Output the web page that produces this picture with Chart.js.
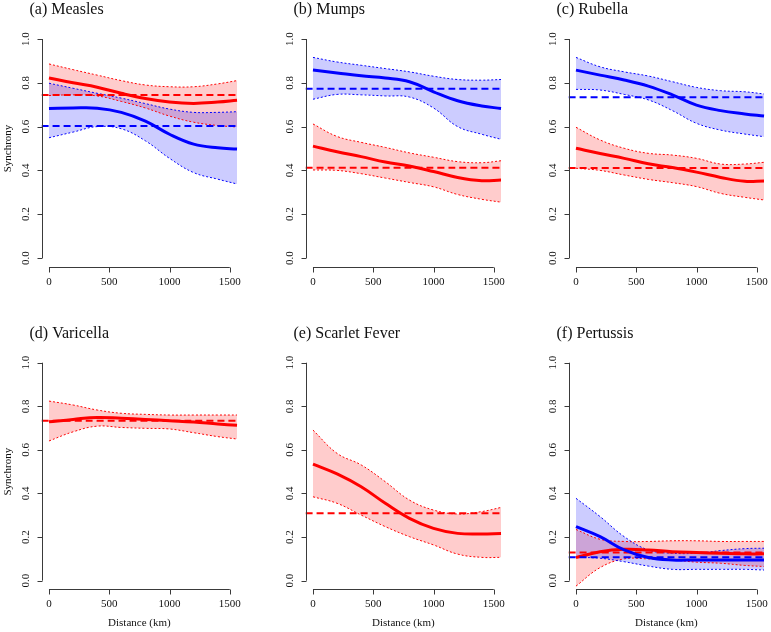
<!DOCTYPE html>
<html>
<head>
<meta charset="utf-8">
<script src="https://cdn.jsdelivr.net/npm/chart.js@4.4.0/dist/chart.umd.min.js"></script>
<style>
  html, body { margin: 0; padding: 0; background: #fff; overflow: hidden; }
  #wrap { position: relative; width: 771px; height: 632px; overflow: hidden; }
  .panel { position: absolute; width: 264px; height: 316px; }
</style>
</head>
<body>
<div id="wrap">
  <div class="panel" style="left:0px;top:0px"><canvas id="c0" width="264" height="316"></canvas></div>
  <div class="panel" style="left:263.5px;top:0px"><canvas id="c1" width="264" height="316"></canvas></div>
  <div class="panel" style="left:527px;top:0px"><canvas id="c2" width="264" height="316"></canvas></div>
  <div class="panel" style="left:0px;top:316px"><canvas id="c3" width="264" height="316"></canvas></div>
  <div class="panel" style="left:263.5px;top:316px"><canvas id="c4" width="264" height="316"></canvas></div>
  <div class="panel" style="left:527px;top:316px"><canvas id="c5" width="264" height="316"></canvas></div>
</div>
<script>
// distancias (km) onde as curvas foram lidas
const xDist = [0, 200, 400, 600, 800, 1000, 1200, 1400, 1560];
const xTicks = [0, 500, 1000, 1500];
const yTicks = [0, 0.2, 0.4, 0.6, 0.8, 1.0];
const titles = ["(a) Measles", "(b) Mumps", "(c) Rubella", "(d) Varicella", "(e) Scarlet Fever", "(f) Pertussis"];

// (a) Measles
const measlesRedMean = [0.822, 0.80, 0.78, 0.752, 0.728, 0.712, 0.706, 0.712, 0.72];
const measlesRedUpper = [0.886, 0.86, 0.835, 0.81, 0.79, 0.782, 0.782, 0.795, 0.81];
const measlesRedLower = [0.742, 0.745, 0.74, 0.715, 0.685, 0.648, 0.62, 0.605, 0.598];
const measlesRedLevel = 0.744;
const measlesBlueMean = [0.683, 0.685, 0.684, 0.665, 0.625, 0.565, 0.52, 0.503, 0.498];
const measlesBlueUpper = [0.798, 0.775, 0.752, 0.73, 0.705, 0.68, 0.665, 0.665, 0.668];
const measlesBlueLower = [0.549, 0.575, 0.60, 0.59, 0.535, 0.455, 0.39, 0.36, 0.338];
const measlesBlueLevel = 0.603;

// (b) Mumps
const mumpsRedMean = [0.511, 0.485, 0.463, 0.438, 0.42, 0.395, 0.368, 0.353, 0.356];
const mumpsRedUpper = [0.612, 0.555, 0.528, 0.505, 0.48, 0.46, 0.44, 0.435, 0.444];
const mumpsRedLower = [0.402, 0.40, 0.385, 0.365, 0.345, 0.325, 0.29, 0.268, 0.255];
const mumpsRedLevel = 0.412;
const mumpsBlueMean = [0.858, 0.845, 0.832, 0.822, 0.805, 0.759, 0.718, 0.694, 0.683];
const mumpsBlueUpper = [0.916, 0.895, 0.88, 0.865, 0.85, 0.83, 0.815, 0.812, 0.815];
const mumpsBlueLower = [0.725, 0.747, 0.745, 0.74, 0.735, 0.685, 0.60, 0.565, 0.542];
const mumpsBlueLevel = 0.773;

// (c) Rubella
const rubellaRedMean = [0.501, 0.477, 0.455, 0.43, 0.413, 0.392, 0.368, 0.35, 0.352];
const rubellaRedUpper = [0.597, 0.539, 0.501, 0.478, 0.47, 0.455, 0.429, 0.429, 0.437];
const rubellaRedLower = [0.41, 0.40, 0.379, 0.359, 0.344, 0.326, 0.295, 0.277, 0.265];
const rubellaRedLevel = 0.411;
const rubellaBlueMean = [0.858, 0.835, 0.813, 0.785, 0.745, 0.698, 0.673, 0.658, 0.648];
const rubellaBlueUpper = [0.916, 0.873, 0.85, 0.831, 0.805, 0.779, 0.764, 0.759, 0.749];
const rubellaBlueLower = [0.77, 0.767, 0.747, 0.722, 0.673, 0.615, 0.584, 0.566, 0.554];
const rubellaBlueLevel = 0.734;

// (d) Varicella
const varicellaRedMean = [0.729, 0.74, 0.749, 0.745, 0.74, 0.734, 0.728, 0.719, 0.713];
const varicellaRedUpper = [0.824, 0.806, 0.783, 0.768, 0.763, 0.76, 0.76, 0.76, 0.76];
const varicellaRedLower = [0.641, 0.683, 0.709, 0.703, 0.699, 0.696, 0.679, 0.661, 0.65];
const varicellaRedLevel = 0.734;

// (e) Scarlet Fever
const scarletRedMean = [0.535, 0.49, 0.431, 0.355, 0.286, 0.24, 0.217, 0.214, 0.217];
const scarletRedUpper = [0.691, 0.584, 0.531, 0.454, 0.37, 0.324, 0.306, 0.317, 0.336];
const scarletRedLower = [0.385, 0.355, 0.301, 0.248, 0.202, 0.164, 0.122, 0.107, 0.107];
const scarletRedLevel = 0.309;

// (f) Pertussis
const pertussisRedMean = [0.106, 0.133, 0.144, 0.141, 0.133, 0.129, 0.126, 0.123, 0.123];
const pertussisRedUpper = [0.235, 0.19, 0.18, 0.18, 0.183, 0.183, 0.18, 0.18, 0.18];
const pertussisRedLower = [-0.025, 0.06, 0.10, 0.10, 0.095, 0.085, 0.08, 0.07, 0.065];
const pertussisRedLevel = 0.129;
const pertussisBlueMean = [0.248, 0.202, 0.141, 0.106, 0.095, 0.095, 0.095, 0.095, 0.095];
const pertussisBlueUpper = [0.378, 0.294, 0.202, 0.141, 0.126, 0.126, 0.138, 0.147, 0.149];
const pertussisBlueLower = [0.107, 0.103, 0.087, 0.067, 0.052, 0.052, 0.052, 0.052, 0.049];
const pertussisBlueLevel = 0.107;

// limites dos eixos (estilo R, 4% de folga)
const xAxisMin = -62, xAxisMax = 1622;
const yAxisMin = -0.04, yAxisMax = 1.04;

const RED = "#ff0000", BLUE = "#0000ff";
const RED_FILL = "rgba(255, 0, 0, 0.2)", BLUE_FILL = "rgba(0, 0, 255, 0.2)";
const SERIF = '"Liberation Serif", "Times New Roman", serif';

function pts(arr) {
  return xDist.map((x, i) => ({ x: x, y: arr[i] }));
}

// monta as séries de um grupo (curva, faixa e linha tracejada)
function group(mean, upper, lower, level, color, fill) {
  const common = { pointRadius: 0, tension: 0.4 };
  return {
    lines: [
      { ...common, data: pts(mean), borderColor: color, borderWidth: 3, fill: false },
      { ...common, data: [{ x: xAxisMin, y: level }, { x: xDist[xDist.length - 1], y: level }],
        borderColor: color, borderWidth: 2, borderDash: [7, 4], fill: false },
    ],
    band: [
      { ...common, data: pts(upper), borderColor: color, borderWidth: 1, borderDash: [2, 2], backgroundColor: fill, fill: "+1" },
      { ...common, data: pts(lower), borderColor: color, borderWidth: 1, borderDash: [2, 2], fill: false },
    ],
  };
}

const panels = [
  [group(measlesRedMean, measlesRedUpper, measlesRedLower, measlesRedLevel, RED, RED_FILL),
   group(measlesBlueMean, measlesBlueUpper, measlesBlueLower, measlesBlueLevel, BLUE, BLUE_FILL)],
  [group(mumpsRedMean, mumpsRedUpper, mumpsRedLower, mumpsRedLevel, RED, RED_FILL),
   group(mumpsBlueMean, mumpsBlueUpper, mumpsBlueLower, mumpsBlueLevel, BLUE, BLUE_FILL)],
  [group(rubellaRedMean, rubellaRedUpper, rubellaRedLower, rubellaRedLevel, RED, RED_FILL),
   group(rubellaBlueMean, rubellaBlueUpper, rubellaBlueLower, rubellaBlueLevel, BLUE, BLUE_FILL)],
  [group(varicellaRedMean, varicellaRedUpper, varicellaRedLower, varicellaRedLevel, RED, RED_FILL)],
  [group(scarletRedMean, scarletRedUpper, scarletRedLower, scarletRedLevel, RED, RED_FILL)],
  [group(pertussisRedMean, pertussisRedUpper, pertussisRedLower, pertussisRedLevel, RED, RED_FILL),
   group(pertussisBlueMean, pertussisBlueUpper, pertussisBlueLower, pertussisBlueLevel, BLUE, BLUE_FILL)],
];

// eixos no estilo do R: linha só entre os ticks, rótulos do y girados
const rAxes = {
  id: "rAxes",
  afterDraw(chart, args, o) {
    const { ctx, chartArea: a } = chart;
    const sx = chart.scales.x, sy = chart.scales.y;
    ctx.save();
    ctx.strokeStyle = "#3a3a3a";
    ctx.lineWidth = 1;
    ctx.beginPath();
    const by = Math.round(a.bottom) + 0.5;
    ctx.moveTo(sx.getPixelForValue(xTicks[0]), by);
    ctx.lineTo(sx.getPixelForValue(xTicks[xTicks.length - 1]), by);
    xTicks.forEach((v) => {
      const px = Math.round(sx.getPixelForValue(v)) + 0.5;
      ctx.moveTo(px, by);
      ctx.lineTo(px, by + 5);
    });
    const lx = Math.round(a.left) + 0.5;
    ctx.moveTo(lx, sy.getPixelForValue(yTicks[0]));
    ctx.lineTo(lx, sy.getPixelForValue(yTicks[yTicks.length - 1]));
    yTicks.forEach((v) => {
      const py = Math.round(sy.getPixelForValue(v)) + 0.5;
      ctx.moveTo(lx, py);
      ctx.lineTo(lx - 5, py);
    });
    ctx.stroke();

    ctx.fillStyle = "#111";
    ctx.font = "11px " + SERIF;
    ctx.textAlign = "center";
    ctx.textBaseline = "middle";
    xTicks.forEach((v) => ctx.fillText(String(v), sx.getPixelForValue(v), a.bottom + 15));
    yTicks.forEach((v) => {
      ctx.save();
      ctx.translate(a.left - 15, sy.getPixelForValue(v));
      ctx.rotate(-Math.PI / 2);
      ctx.fillText(v.toFixed(1), 0, 0);
      ctx.restore();
    });

    if (o.yTitle) {
      ctx.save();
      ctx.translate(a.left - 33.5, (sy.getPixelForValue(0) + sy.getPixelForValue(1)) / 2);
      ctx.rotate(-Math.PI / 2);
      ctx.fillText("Synchrony", 0, 0);
      ctx.restore();
    }
    if (o.xTitle) {
      ctx.fillText("Distance (km)", (sx.getPixelForValue(0) + sx.getPixelForValue(1500)) / 2, a.bottom + 34);
    }

    ctx.font = "16px " + SERIF;
    ctx.textAlign = "left";
    ctx.fillText(o.title, a.left - 12, a.top - 20.5);
    ctx.restore();
  },
};

function loadPanel(i) {
  const groups = panels[i];
  const topRow = i < 3;
  // curvas e tracejadas por cima, faixas por baixo
  const datasets = [];
  groups.slice().reverse().forEach((g) => datasets.push(...g.lines));
  groups.slice().reverse().forEach((g) => datasets.push(...g.band));

  new Chart(document.getElementById("c" + i).getContext("2d"), {
    type: "line",
    data: { datasets: datasets },
    options: {
      responsive: false,
      animation: false,
      events: [],
      layout: {
        padding: topRow
          ? { left: 41.5, right: 19.5, top: 30.24, bottom: 49.24 }
          : { left: 41.5, right: 19.5, top: 38, bottom: 42.6 },
      },
      scales: {
        x: { type: "linear", min: xAxisMin, max: xAxisMax, display: false },
        y: { type: "linear", min: yAxisMin, max: yAxisMax, display: false },
      },
      plugins: {
        legend: { display: false },
        tooltip: { enabled: false },
        filler: { drawTime: "beforeDatasetsDraw" },
        rAxes: { title: titles[i], yTitle: i % 3 === 0, xTitle: !topRow },
      },
    },
    plugins: [rAxes],
  });
}

document.addEventListener("DOMContentLoaded", () => {
  for (let i = 0; i < 6; i++) loadPanel(i);
});
</script>
</body>
</html>
